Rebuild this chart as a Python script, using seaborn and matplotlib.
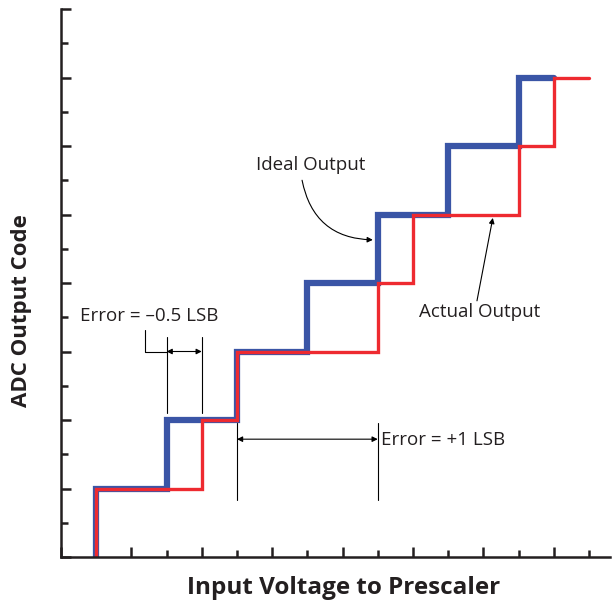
import numpy as np
import pandas as pd
import matplotlib
matplotlib.use("Agg")
import matplotlib.pyplot as plt
import seaborn as sns
from matplotlib.ticker import MultipleLocator

# step corners (input in LSB units, output code)
ideal_x = [1, 1, 3, 5, 7, 9, 11, 13, 14]
ideal_code = [0, 1, 2, 3, 4, 5, 6, 7, 7]
actual_x = [1, 1, 4, 5, 9, 10, 13, 14, 15]
actual_code = [0, 1, 2, 3, 4, 5, 6, 7, 7]

ideal = pd.DataFrame({"x": ideal_x, "code": ideal_code})
actual = pd.DataFrame({"x": actual_x, "code": actual_code})

sns.set_style("white")
plt.rcParams['font.family'] = ['Open Sans', 'DejaVu Sans']

fig = plt.figure(figsize=(6.13, 6.05), dpi=100)
ax = fig.add_axes([61 / 613, 48 / 605, 549 / 613, 548 / 605])

sns.lineplot(data=ideal, x="x", y="code", estimator=None, sort=False,
             drawstyle="steps-post", color="#3a55a6", linewidth=4.5,
             solid_joinstyle="miter", ax=ax)
sns.lineplot(data=actual, x="x", y="code", estimator=None, sort=False,
             drawstyle="steps-post", color="#ee2a30", linewidth=2.4,
             solid_joinstyle="miter", ax=ax)

ax.set_xlim(0, 15.6)
ax.set_ylim(0, 8)
ax.xaxis.set_major_locator(MultipleLocator(2))
ax.xaxis.set_minor_locator(MultipleLocator(1))
ax.yaxis.set_major_locator(MultipleLocator(1))
ax.yaxis.set_minor_locator(MultipleLocator(0.5))
ax.tick_params(which="both", direction="in", labelbottom=False, labelleft=False,
               color="#231f20", width=1.8, bottom=True, left=True)
ax.tick_params(which="major", length=7.5)
ax.tick_params(which="minor", length=5)
for s in ["top", "right"]:
    ax.spines[s].set_visible(False)
for s in ["left", "bottom"]:
    ax.spines[s].set_linewidth(1.8)
    ax.spines[s].set_color("#231f20")

ax.set_xlabel("")
ax.set_ylabel("")
fig.text(344 / 613, 1 - 588 / 605, "Input Voltage to Prescaler", ha="center", va="center",
         fontsize=17.5, fontweight="bold", color="#231f20")
fig.text(22 / 613, 1 - 311 / 605, "ADC Output Code", ha="center", va="center",
         rotation=90, fontsize=16, fontweight="bold", color="#231f20")

lw = 0.8
txt = dict(fontsize=13.5, color="#231f20")

# Error = -0.5 LSB
ax.text(0.54, 3.52, "Error = \u20130.5 LSB", ha="left", va="center", **txt)
ax.plot([2.39, 2.39, 3], [3.31, 3.0, 3.0], color="black", lw=lw)
for xv in [3, 4]:
    ax.plot([xv, xv], [2.1, 3.21], color="black", lw=lw)
ax.annotate("", xy=(3, 3.0), xytext=(4, 3.0),
            arrowprops=dict(arrowstyle="<|-|>", color="black", lw=lw,
                            mutation_scale=8, shrinkA=0, shrinkB=0))

# Error = +1 LSB
for xv in [5, 9]:
    ax.plot([xv, xv], [0.83, 1.96], color="black", lw=lw)
ax.annotate("", xy=(5, 1.72), xytext=(9, 1.72),
            arrowprops=dict(arrowstyle="<|-|>", color="black", lw=lw,
                            mutation_scale=8, shrinkA=0, shrinkB=0))
ax.text(9.1, 1.71, "Error = +1 LSB", ha="left", va="center", **txt)

# Ideal Output
ax.text(7.1, 5.72, "Ideal Output", ha="center", va="center", **txt)
ax.annotate("", xy=(8.86, 4.63), xytext=(6.85, 5.5),
            arrowprops=dict(arrowstyle="-|>", color="black", lw=lw,
                            mutation_scale=8, shrinkA=0, shrinkB=0,
                            connectionstyle="arc3,rad=0.4"))

# Actual Output
ax.text(11.9, 3.58, "Actual Output", ha="center", va="center", **txt)
ax.annotate("", xy=(12.27, 4.95), xytext=(11.82, 3.74),
            arrowprops=dict(arrowstyle="-|>", color="black", lw=lw,
                            mutation_scale=8, shrinkA=0, shrinkB=0))

fig.savefig("out.png", dpi=100)
